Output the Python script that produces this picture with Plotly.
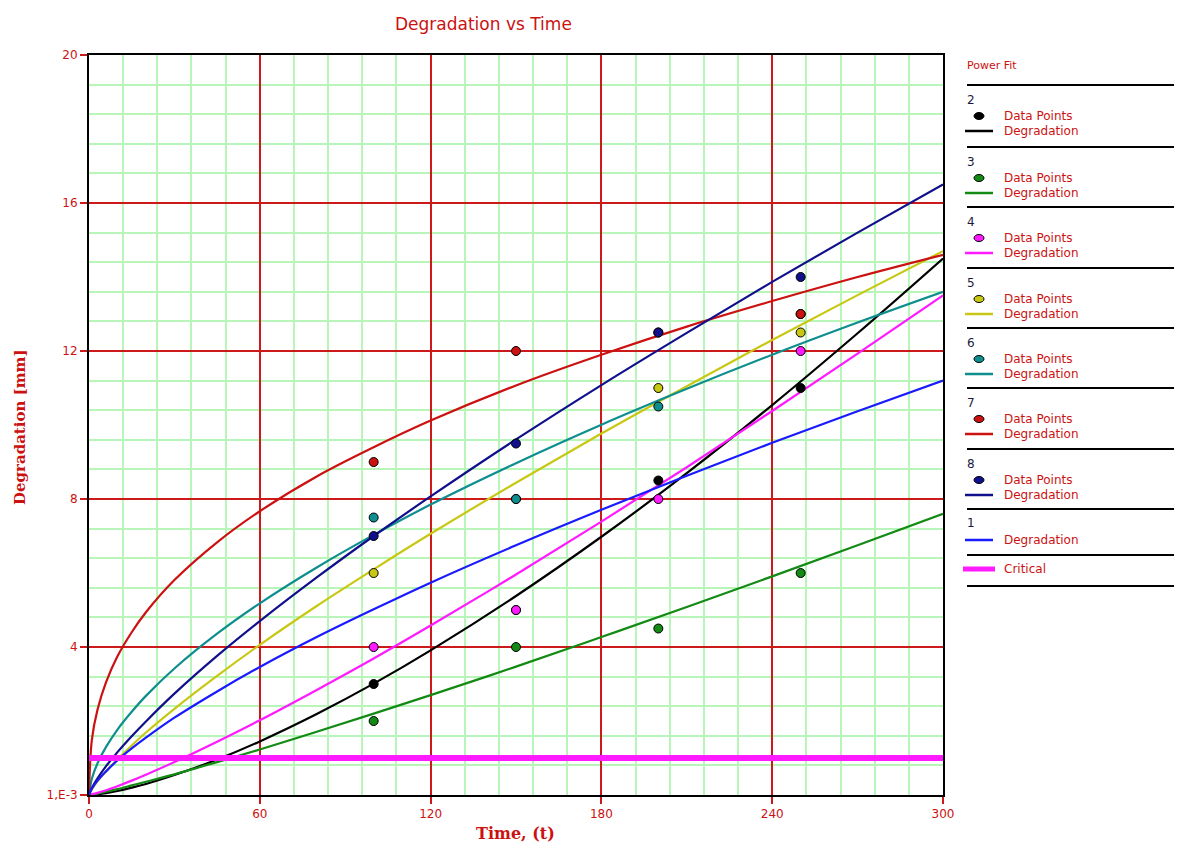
import plotly.graph_objects as go

# Fitted degradation curves
t_fit = [0, 1, 3, 6, 10, 15, 20, 30, 45, 60, 80, 100, 120, 150, 180, 210, 240, 270, 300]
fit_1 = [0, 0.17, 0.39, 0.64, 0.94, 1.26, 1.55, 2.09, 2.80, 3.46, 4.27, 5.02, 5.74, 6.75, 7.71, 8.63, 9.52, 10.37, 11.2]
fit_2 = [0, 0.00, 0.02, 0.05, 0.11, 0.20, 0.30, 0.54, 0.96, 1.45, 2.19, 3.01, 3.91, 5.38, 6.98, 8.70, 10.54, 12.48, 14.5]
fit_3 = [0, 0.01, 0.04, 0.09, 0.16, 0.26, 0.36, 0.56, 0.89, 1.23, 1.71, 2.20, 2.70, 3.47, 4.27, 5.08, 5.91, 6.75, 7.6]
fit_4 = [0, 0.02, 0.06, 0.13, 0.24, 0.39, 0.55, 0.89, 1.44, 2.02, 2.84, 3.69, 4.58, 5.96, 7.39, 8.86, 10.38, 11.93, 13.5]
fit_5 = [0, 0.15, 0.37, 0.64, 0.97, 1.34, 1.69, 2.33, 3.22, 4.06, 5.11, 6.10, 7.06, 8.44, 9.77, 11.05, 12.30, 13.51, 14.7]
fit_6 = [0, 0.44, 0.86, 1.30, 1.77, 2.25, 2.68, 3.42, 4.36, 5.18, 6.15, 7.03, 7.85, 8.97, 10.01, 10.98, 11.90, 12.77, 13.6]
fit_7 = [0, 1.49, 2.31, 3.05, 3.75, 4.40, 4.94, 5.81, 6.83, 7.67, 8.61, 9.40, 10.12, 11.07, 11.90, 12.66, 13.35, 14.00, 14.6]
fit_8 = [0, 0.19, 0.45, 0.78, 1.16, 1.59, 1.99, 2.74, 3.76, 4.70, 5.88, 7.00, 8.07, 9.61, 11.08, 12.49, 13.87, 15.20, 16.5]

# Measured data points
t_pts = [100, 150, 200, 250]
pts_2 = [3.0, 5.0, 8.5, 11.0]
pts_3 = [2.0, 4.0, 4.5, 6.0]
pts_4 = [4.0, 5.0, 8.0, 12.0]
pts_5 = [6.0, 8.0, 11.0, 12.5]
pts_6 = [7.5, 8.0, 10.5, 13.0]
pts_7 = [9.0, 12.0, 12.5, 13.0]
pts_8 = [7.0, 9.5, 12.5, 14.0]

# Critical level
t_crit = [0, 300]
crit = [1, 1]

x_ticks = [0, 60, 120, 180, 240, 300]
y_ticks = [0.001, 4, 8, 12, 16, 20]
y_ticktext = ["1,E-3", "4", "8", "12", "16", "20"]

colors = {
    "1": "#1a1aff", "2": "#000000", "3": "#138a13", "4": "#ff1aff",
    "5": "#c8c814", "6": "#0e8e8e", "7": "#cc1111", "8": "#10108c",
}
fits = {"1": fit_1, "2": fit_2, "3": fit_3, "4": fit_4, "5": fit_5,
        "6": fit_6, "7": fit_7, "8": fit_8}
pts = {"2": pts_2, "3": pts_3, "4": pts_4, "5": pts_5, "6": pts_6,
       "7": pts_7, "8": pts_8}

RED = "#cc1111"
# the page body adds an 8px offset, so the figure is drawn 8px smaller
OFF = 8
W, H = 1182 - OFF, 846 - OFF

fig = go.Figure()

for k in ["2", "3", "4", "5", "6", "7", "8", "1"]:
    fig.add_trace(go.Scatter(x=t_fit, y=fits[k], mode="lines",
                             line=dict(color=colors[k], width=2.2, shape="spline"),
                             showlegend=False))

fig.add_trace(go.Scatter(x=t_crit, y=crit, mode="lines",
                         line=dict(color="#ff1aff", width=6), showlegend=False))

for k in ["2", "3", "4", "5", "6", "7", "8"]:
    fig.add_trace(go.Scatter(x=t_pts, y=pts[k], mode="markers",
                             marker=dict(color=colors[k], size=9,
                                         line=dict(color="#000000", width=1)),
                             showlegend=False))

def px(x):
    return (x - OFF) / W

def py(y):
    return 1 - (y - OFF) / H

shapes = []
annotations = []

def label(x, y, text, color=RED, size=12, **kw):
    annotations.append(dict(x=px(x), y=py(y), xref="paper", yref="paper", text=text,
                            showarrow=False, xanchor=kw.pop("xanchor", "left"),
                            yanchor="middle", font=dict(color=color, size=size,
                                                        family=kw.pop("family", "DejaVu Sans")),
                            **kw))

# Legend panel on the right
label(965, 65, "Power Fit", size=11)
seps = [85, 147, 207, 268, 328, 388, 449, 509, 555, 586]
for s in seps:
    shapes.append(dict(type="line", xref="paper", yref="paper", x0=px(967), x1=px(1182),
                       y0=py(s), y1=py(s), line=dict(color="#000000", width=2)))

groups = ["2", "3", "4", "5", "6", "7", "8"]
for i, k in enumerate(groups):
    s = seps[i]
    label(965, s + 15, k, color="#1a1a40")
    shapes.append(dict(type="circle", xref="paper", yref="paper", xsizemode="pixel",
                       ysizemode="pixel", xanchor=px(979), yanchor=py(s + 31),
                       x0=-5, x1=5, y0=-3.5, y1=3.5, fillcolor=colors[k],
                       line=dict(color="#000000", width=1)))
    label(1002, s + 31, "Data Points")
    shapes.append(dict(type="line", xref="paper", yref="paper", x0=px(965), x1=px(993),
                       y0=py(s + 46), y1=py(s + 46), line=dict(color=colors[k], width=2.5)))
    label(1002, s + 46, "Degradation")

# group 1 (line only)
s = seps[7]
label(965, s + 14, "1", color="#1a1a40")
shapes.append(dict(type="line", xref="paper", yref="paper", x0=px(965), x1=px(993),
                   y0=py(s + 31), y1=py(s + 31), line=dict(color=colors["1"], width=2.5)))
label(1002, s + 31, "Degradation")
# critical
s = seps[8]
shapes.append(dict(type="line", xref="paper", yref="paper", x0=px(963), x1=px(995),
                   y0=py(s + 14), y1=py(s + 14), line=dict(color="#ff1aff", width=5)))
label(1002, s + 14, "Critical")

# Titles
label(483, 24, "Degradation vs Time", size=17, xanchor="center")
label(515, 833, "<b>Time, (t)</b>", size=16, xanchor="center", family="DejaVu Serif")
label(20, 427, "<b>Degradation [mm]</b>", size=15, xanchor="center",
      family="DejaVu Serif", textangle=-90)

fig.update_layout(
    width=W, height=H,
    margin=dict(l=0, r=0, t=0, b=0, pad=0),
    paper_bgcolor="white", plot_bgcolor="white",
    font=dict(family="DejaVu Sans", size=11, color=RED),
    shapes=shapes, annotations=annotations,
    showlegend=False,
)

fig.update_xaxes(
    domain=[px(89), px(943)], range=[0, 300], automargin=False,
    tickmode="array", tickvals=x_ticks,
    showgrid=True, gridcolor="#cc1a1a", gridwidth=1.6,
    minor=dict(dtick=12, showgrid=True, gridcolor="#b8f5b8", gridwidth=1.6, ticks=""),
    showline=True, linecolor="#000000", linewidth=2, mirror=True,
    ticks="outside", ticklen=7, tickcolor="#cc1a1a", tickwidth=1.6,
    tickfont=dict(color=RED, size=12), zeroline=False,
)
fig.update_yaxes(
    domain=[py(795), py(55)], range=[0.001, 20], automargin=False,
    tickmode="array", tickvals=y_ticks, ticktext=y_ticktext,
    showgrid=True, gridcolor="#cc1a1a", gridwidth=1.6,
    minor=dict(dtick=0.8, tick0=0, showgrid=True, gridcolor="#b8f5b8", gridwidth=1.6, ticks=""),
    showline=True, linecolor="#000000", linewidth=2, mirror=True,
    ticks="outside", ticklen=7, tickcolor="#cc1a1a", tickwidth=1.6,
    tickfont=dict(color=RED, size=12), zeroline=False,
)

fig.write_html("out.html")
